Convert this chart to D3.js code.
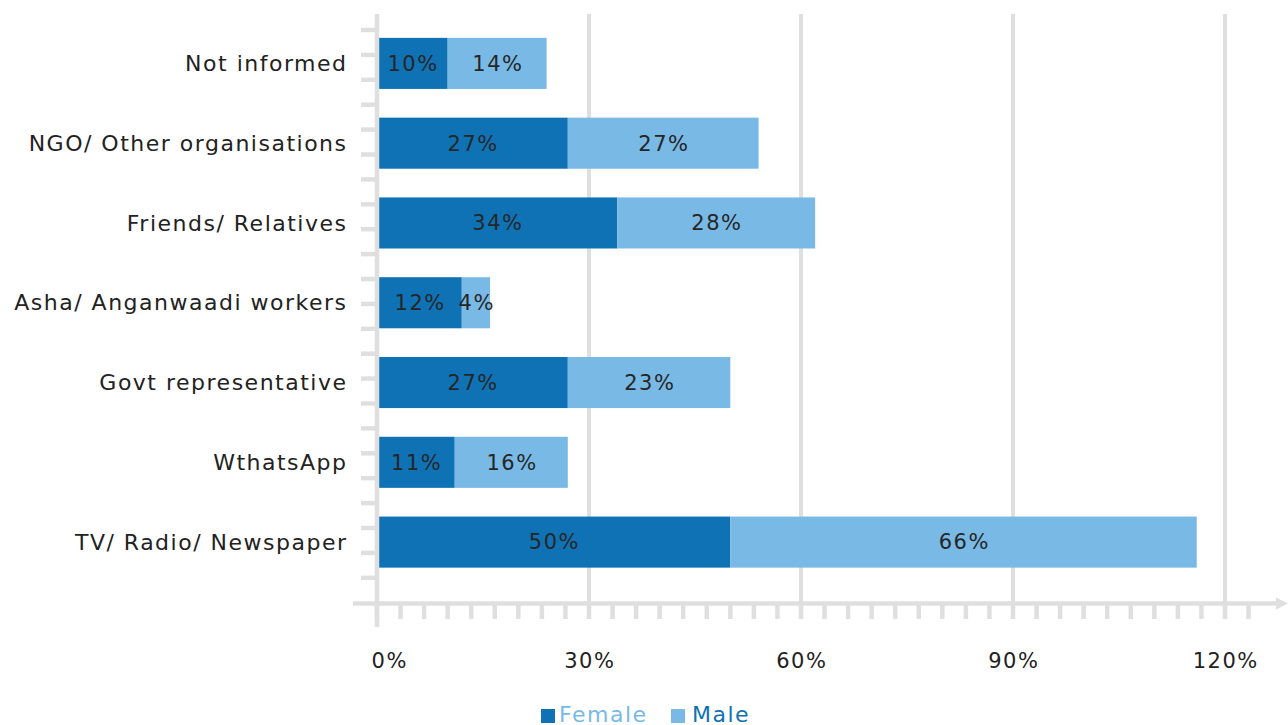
<!DOCTYPE html>
<html>
<head>
<meta charset="utf-8">
<script src="https://cdn.jsdelivr.net/npm/d3@7"></script>
<style>
  html, body { margin: 0; padding: 0; background: #fff; }
  svg { display: block; font-family: "DejaVu Sans", sans-serif; }
</style>
</head>
<body>
<svg id="chart" width="1288" height="725"></svg>
<script>
// Source of information, split by gender (stacked percentages)
const categories = [
  "Not informed",
  "NGO/ Other organisations",
  "Friends/ Relatives",
  "Asha/ Anganwaadi workers",
  "Govt representative",
  "WthatsApp",
  "TV/ Radio/ Newspaper"
];
const female = [10, 27, 34, 12, 27, 11, 50];
const male   = [14, 27, 28, 4, 23, 16, 66];
const seriesNames = ["Female", "Male"];
const xTicks = [0, 30, 60, 90, 120];

const colors = { Female: "#0e72b5", Male: "#79b9e5" };
const gridColor = "#dfdfdf";
const textColor = "#222";
const spacing = 1.5; // extra tracking for a wide, geometric look

const svg = d3.select("#chart");

const x = d3.scaleLinear().domain([0, 120]).range([377, 1225]);
const y = d3.scaleBand().domain(categories).range([23.5, 582]).paddingInner(0.36).paddingOuter(0.18);

const rows = categories.map((c, i) => ({ category: c, Female: female[i], Male: male[i] }));
const stacked = d3.stack().keys(seriesNames)(rows);

// vertical gridlines
svg.append("g").selectAll("line")
  .data(xTicks.filter(d => d > 0))
  .join("line")
  .attr("x1", d => x(d)).attr("x2", d => x(d))
  .attr("y1", 14).attr("y2", 619)
  .attr("stroke", gridColor).attr("stroke-width", 4);

// bars
const layer = svg.append("g").selectAll("g")
  .data(stacked)
  .join("g")
  .attr("fill", d => colors[d.key]);

layer.selectAll("rect")
  .data(d => d)
  .join("rect")
  .attr("x", d => x(d[0]))
  .attr("width", d => x(d[1]) - x(d[0]))
  .attr("y", d => y(d.data.category))
  .attr("height", y.bandwidth());

// value labels
svg.append("g").selectAll("g")
  .data(stacked)
  .join("g")
  .selectAll("text")
  .data(d => d)
  .join("text")
  .attr("x", d => (x(d[0]) + x(d[1])) / 2 + spacing / 2)
  .attr("y", d => y(d.data.category) + y.bandwidth() / 2)
  .attr("dy", "0.35em")
  .attr("text-anchor", "middle")
  .attr("font-size", 21)
  .attr("letter-spacing", spacing)
  .attr("fill", "#262626")
  .text(d => (d[1] - d[0]) + "%");

// y axis line and its small ticks
const yAxis = svg.append("g");
yAxis.append("line")
  .attr("x1", 377).attr("x2", 377).attr("y1", 14).attr("y2", 627)
  .attr("stroke", gridColor).attr("stroke-width", 4.5);
yAxis.selectAll("line.tick")
  .data(d3.range(23))
  .join("line")
  .attr("class", "tick")
  .attr("x1", 361).attr("x2", 377)
  .attr("y1", i => 30 + i * 24.9).attr("y2", i => 30 + i * 24.9)
  .attr("stroke", gridColor).attr("stroke-width", 4.5);

// category labels
svg.append("g").selectAll("text")
  .data(categories)
  .join("text")
  .attr("x", 346 + spacing)
  .attr("y", d => y(d) + y.bandwidth() / 2)
  .attr("dy", "0.35em")
  .attr("text-anchor", "end")
  .attr("font-size", 22)
  .attr("letter-spacing", spacing)
  .attr("fill", textColor)
  .text(d => d);

// x axis with arrow and minor ticks
const xAxis = svg.append("g");
xAxis.append("line")
  .attr("x1", 353).attr("x2", 1278).attr("y1", 603.5).attr("y2", 603.5)
  .attr("stroke", gridColor).attr("stroke-width", 4.5);
xAxis.append("path")
  .attr("d", "M1276,597.5 L1288,603.5 L1276,609.5 Z")
  .attr("fill", gridColor);
xAxis.selectAll("line.minor")
  .data(d3.range(0, 124, 10 / 3))
  .join("line")
  .attr("class", "minor")
  .attr("x1", d => x(d)).attr("x2", d => x(d))
  .attr("y1", 603).attr("y2", 619)
  .attr("stroke", gridColor).attr("stroke-width", 4.5);

xAxis.selectAll("text")
  .data(xTicks)
  .join("text")
  .attr("x", d => x(d) + (d === 0 ? 12 : 0) + spacing / 2)
  .attr("y", 661)
  .attr("dy", "0.35em")
  .attr("text-anchor", "middle")
  .attr("font-size", 21)
  .attr("letter-spacing", spacing)
  .attr("fill", textColor)
  .text(d => d + "%");

// legend (label colours are swapped relative to the swatches)
const legend = svg.append("g").attr("font-size", 22).attr("letter-spacing", spacing);
const legendItems = [
  { key: "Female", sx: 541, tx: 559, textFill: colors.Male },
  { key: "Male", sx: 671, tx: 692, textFill: colors.Female }
];
legend.selectAll("rect")
  .data(legendItems)
  .join("rect")
  .attr("x", d => d.sx).attr("y", 709)
  .attr("width", 14).attr("height", 14)
  .attr("fill", d => colors[d.key]);
legend.selectAll("text")
  .data(legendItems)
  .join("text")
  .attr("x", d => d.tx).attr("y", 722)
  .attr("fill", d => d.textFill)
  .text(d => d.key);
</script>
</body>
</html>
